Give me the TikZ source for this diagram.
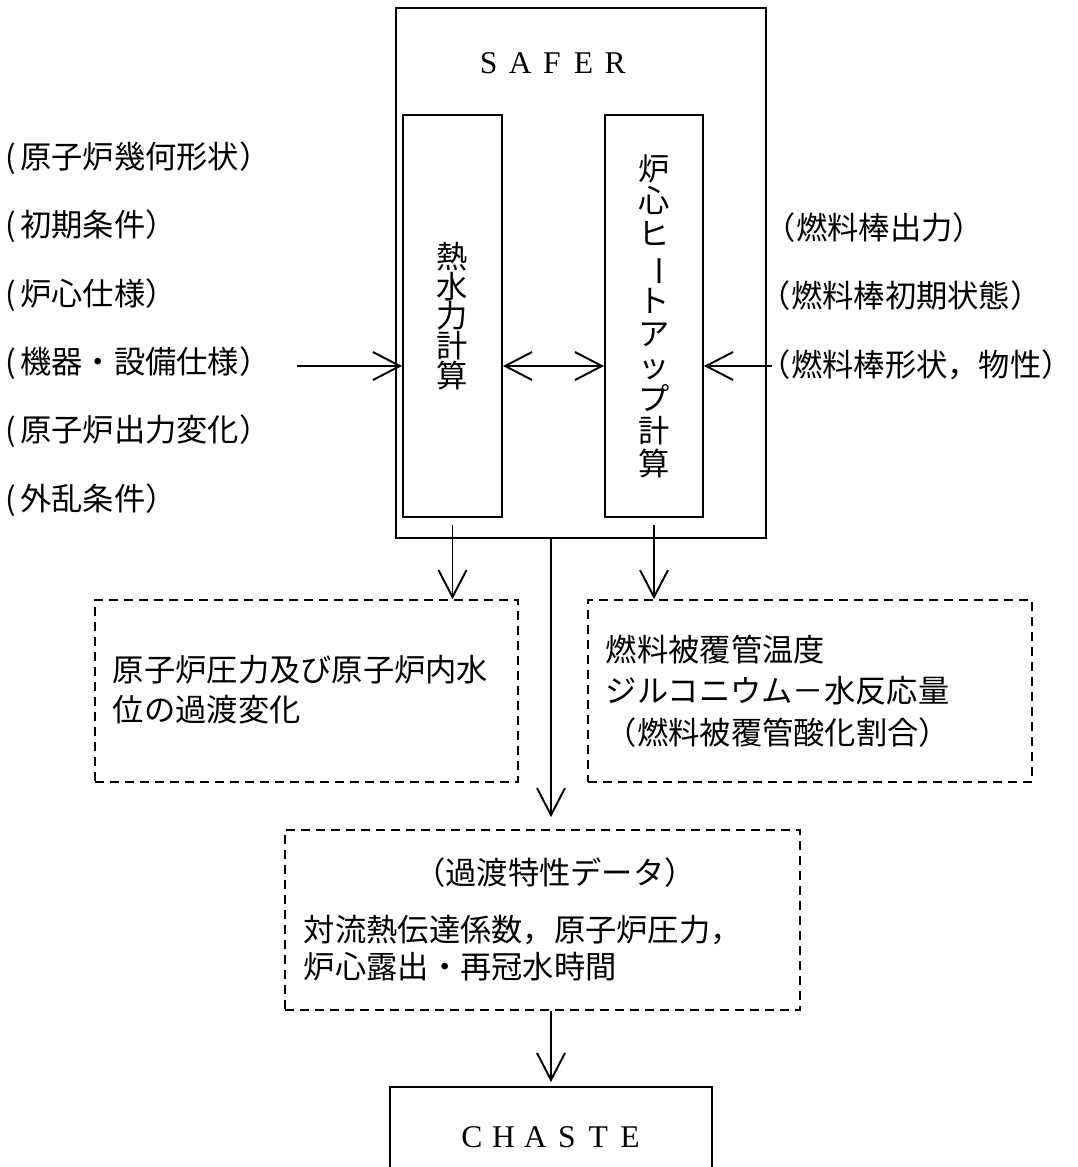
\documentclass[tikz,border=0pt]{standalone}
\usepackage{fontspec}
\newfontfamily\jp{Noto Sans CJK JP}
\newfontfamily\lat{Liberation Serif}
\usetikzlibrary{arrows.meta}
\newcommand{\zen}[1]{\makebox[1em]{#1}}
\newcommand{\tate}{\rotatebox[origin=c]{-90}{ー}}
\newcommand{\lp}{(\kern0.12em}
\tikzset{
  >={Straight Barb[length=0.54cm,width=0.56cm]},
  box/.style = {draw, inner sep=0pt},
  dashbox/.style = {draw, line width=1pt, dash pattern=on 0.18cm off 0.12cm, inner sep=0pt},
  jtext/.style = {font=\jp\fontsize{17.8}{#1}\selectfont, inner sep=0pt},
  jtext/.default = 23,
  title/.style = {font=\lat\fontsize{18}{20}\selectfont, inner sep=0pt}
}

\begin{document}
\begin{tikzpicture}[x=0.02cm,y=-0.02cm,line width=1.1pt]
  \useasboundingbox (0,0) rectangle (1078,1167);
  % SAFER
  \node[box, minimum width=7.4cm, minimum height=10.6cm] (safer) at (581,273) {};
  \node[title] (safertitle) at (552,63) {\zen{S}\zen{A}\zen{F}\zen{E}\zen{R}};
  \node[box, jtext=17, align=center, minimum width=1.98cm, minimum height=8.04cm]
    (thermal) at (452.5,316) {熱\\水\\力\\計\\算};
  \node[box, jtext=18.5, align=center, minimum width=1.96cm, minimum height=8.04cm]
    (heatup) at (654,316) {炉\\心\\ヒ\\\tate\\ト\\ア\\ッ\\プ\\計\\算};
  % inputs
  \foreach \t [count=\i] in {原子炉幾何形状）,初期条件）,炉心仕様）,
      機器・設備仕様）,原子炉出力変化）,外乱条件）}
    \node[jtext, anchor=west] (param\i) at (5,{89.6+68.4*\i}) {\lp\t};
  \node[jtext, anchor=west] (rod1) at (764,228) {（燃料棒出力）};
  \node[jtext, anchor=west] (rod2) at (759,296) {（燃料棒初期状態）};
  \node[jtext, anchor=west] (rod3) at (759,365) {（燃料棒形状，物性）};
  \coordinate (feedL) at (297,366);
  \coordinate (feedR) at (772,366);
  \draw[->] (feedL) -- (feedL -| thermal.west);
  \draw[->] (feedR) -- (feedR -| heatup.east);
  \draw[<->] (thermal.east |- feedL) -- (heatup.west |- feedL);
  % results
  \node[dashbox, minimum width=8.46cm, minimum height=3.64cm] (pressure) at (306.5,691) {};
  \node[jtext=22.8, anchor=west, align=left] (pressuretext) at (112,690)
    {原子炉圧力及び原子炉内水\\位の過渡変化};
  \node[dashbox, minimum width=8.88cm, minimum height=3.64cm] (cladding) at (810,691) {};
  \node[jtext=23.6, anchor=west, align=left] (claddingtext) at (605,691)
    {燃料被覆管温度\\ジルコニウム－水反応量\\（燃料被覆管酸化割合）};
  \draw[->, shorten <=0.14cm] (thermal.south) -- (thermal.south |- pressure.north);
  \draw[->, shorten <=0.14cm] (heatup.south) -- (heatup.south |- cladding.north);
  % transient data
  \node[dashbox, minimum width=10.3cm, minimum height=3.6cm] (transient) at (542.5,920) {};
  \node[jtext] (transtitle) at (555,873) {（過渡特性データ）};
  \node[jtext=21, anchor=west, align=left] (transtext) at (303,948)
    {対流熱伝達係数，原子炉圧力，\\炉心露出・再冠水時間};
  % CHASTE
  \node[box, minimum width=6.44cm, minimum height=3.26cm] (chaste) at (551,1168.5) {};
  \node[title] (chastetitle) at (551,1137) {\zen{C}\zen{H}\zen{A}\zen{S}\zen{T}\zen{E}};
  \coordinate (split) at (safer.south -| chaste.north);
  \draw[->, shorten >=0.24cm] (split) -- (split |- transient.north);
  \draw[->, shorten >=0.08cm] (split |- transient.south) -- (split |- chaste.north);
\end{tikzpicture}
\end{document}
